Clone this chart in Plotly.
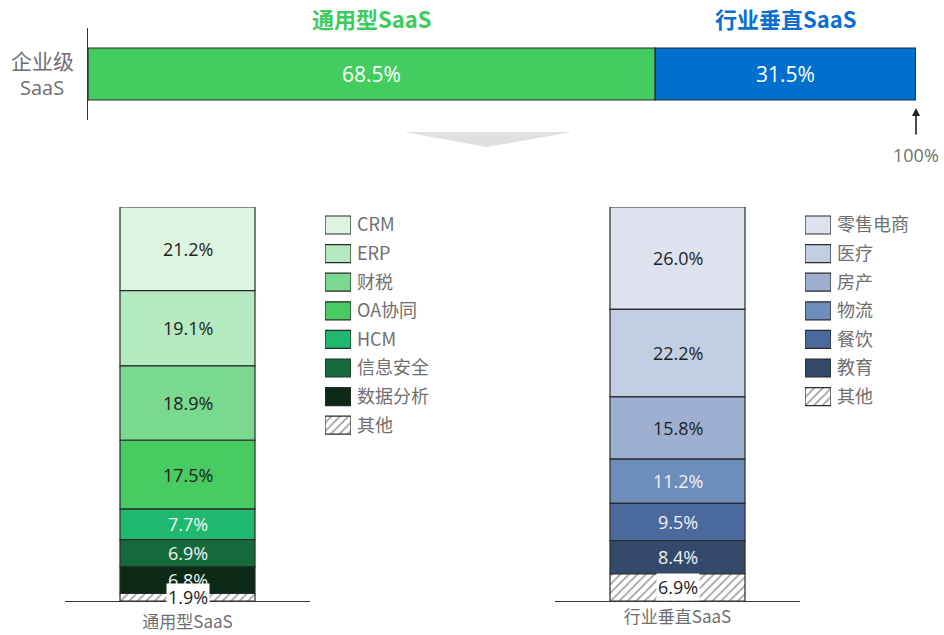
import plotly.graph_objects as go

# ---------------- data ----------------
top_categories = ['通用型SaaS', '行业垂直SaaS']
top_values = [68.5, 31.5]
top_row_label = ['企业级', 'SaaS']
top_total_label = '100%'

general_name = '通用型SaaS'
general_categories = ['CRM', 'ERP', '财税', 'OA协同', 'HCM', '信息安全', '数据分析', '其他']
general_values = [21.2, 19.1, 18.9, 17.5, 7.7, 6.9, 6.8, 1.9]

vertical_name = '行业垂直SaaS'
vertical_categories = ['零售电商', '医疗', '房产', '物流', '餐饮', '教育', '其他']
vertical_values = [26.0, 22.2, 15.8, 11.2, 9.5, 8.4, 6.9]

# ---------------- styles ----------------
W, H = 944, 635
FONT = 'Open Sans, Noto Sans CJK SC, sans-serif'
CJK = 'Noto Sans CJK SC, sans-serif'
GRAY = '#6f6f6f'
OUTLINE = '#2a2a2a'
top_colors = ['#43cd5f', '#0070cf']
top_title_colors = ['#3dcc5b', '#0b6fd0']
general_colors = ['#dcf4e0', '#b3eac0', '#7ad98e', '#48cc62', '#1fb86e', '#156a3c', '#0b2a17', 'white']
general_text = ['#1e1e1e'] * 4 + ['#f2f2f2'] * 3 + ['#1e1e1e']
vertical_colors = ['#dde2ee', '#c2cee1', '#9db0d1', '#6d8dbb', '#4a699c', '#334a6c', 'white']
vertical_text = ['#1e1e1e'] * 3 + ['#f2f2f2'] * 3 + ['#1e1e1e']
HATCH = '#6b6b6b'


def px(x):
    return x / W


def py(y):
    return 1 - y / H


def bases(vals):
    return [sum(vals[i + 1:]) for i in range(len(vals))]


def shapes_for(cats):
    return ['/' if c == '其他' else '' for c in cats]


fig = go.Figure()

# top bar
top_base = [sum(top_values[:i]) for i in range(len(top_values))]
fig.add_trace(go.Bar(
    x=top_values, y=[0] * len(top_values), base=top_base, orientation='h',
    width=0.565, marker=dict(color=top_colors, line=dict(color=OUTLINE, width=1.2)),
    xaxis='x', yaxis='y', showlegend=False, hoverinfo='skip'))


def add_stack(cats, vals, colors, name, xa, ya):
    fig.add_trace(go.Bar(
        x=[name] * len(vals), y=vals, base=bases(vals), width=0.551,
        marker=dict(color=colors, line=dict(color=OUTLINE, width=1.2),
                    pattern=dict(shape=shapes_for(cats), fgcolor=HATCH, bgcolor='white',
                                 size=6, solidity=0.3, fillmode='overlay')),
        xaxis=xa, yaxis=ya, showlegend=False, hoverinfo='skip'))


add_stack(general_categories, general_values, general_colors, general_name, 'x2', 'y2')
add_stack(vertical_categories, vertical_values, vertical_colors, vertical_name, 'x3', 'y3')


def add_legend(cats, colors, xa, ya):
    fig.add_trace(go.Bar(
        x=[1] * len(cats), y=list(range(len(cats))), orientation='h', width=0.63,
        marker=dict(color=colors, line=dict(color=OUTLINE, width=1.2),
                    pattern=dict(shape=shapes_for(cats), fgcolor=HATCH, bgcolor='white',
                                 size=6, solidity=0.3, fillmode='overlay')),
        xaxis=xa, yaxis=ya, showlegend=False, hoverinfo='skip'))


add_legend(general_categories, general_colors, 'x4', 'y4')
add_legend(vertical_categories, vertical_colors, 'x5', 'y5')

annotations = []
for i, (c, v) in enumerate(zip(top_categories, top_values)):
    mid = top_base[i] + v / 2
    annotations.append(dict(x=mid, y=0, xref='x', yref='y', text=f'{v:.1f}%', showarrow=False,
                            font=dict(family=FONT, size=21, color='white')))
    annotations.append(dict(x=mid, y=py(18), xref='x', yref='paper', text=f'<b>{c}</b>', showarrow=False,
                            xanchor='center', yanchor='middle',
                            font=dict(family=CJK, size=22, color=top_title_colors[i])))
annotations.append(dict(x=px(42), y=py(60), xref='paper', yref='paper', text=top_row_label[0],
                        xanchor='center', yanchor='middle',
                        showarrow=False, font=dict(family=CJK, size=21, color=GRAY)))
annotations.append(dict(x=px(42), y=py(87), xref='paper', yref='paper', text=top_row_label[1],
                        xanchor='center', yanchor='middle',
                        showarrow=False, font=dict(family=FONT, size=20, color=GRAY)))
annotations.append(dict(x=sum(top_values), y=py(108), xref='x', yref='paper', ax=0, ay=28, text='',
                        showarrow=True, arrowhead=2, arrowsize=1, arrowwidth=1.6, arrowcolor='#222'))
annotations.append(dict(x=sum(top_values), y=py(155), xref='x', yref='paper', text=top_total_label,
                        xanchor='center', yanchor='middle',
                        showarrow=False, font=dict(family=FONT, size=18, color=GRAY)))


def seg_labels(cats, vals, name, colors, xa, ya):
    b = bases(vals)
    for i, (c, v) in enumerate(zip(cats, vals)):
        other = c == '其他'
        annotations.append(dict(
            x=name, y=b[i] + v / 2, xref=xa, yref=ya, text=f'{v:.1f}%', showarrow=False,
            font=dict(family=FONT, size=18, color=colors[i]),
            bgcolor='white' if other else None, borderpad=1 if other else 0))


seg_labels(general_categories, general_values, general_name, general_text, 'x2', 'y2')
seg_labels(vertical_categories, vertical_values, vertical_name, vertical_text, 'x3', 'y3')

shapes = [dict(type='path', xref='paper', yref='paper',
               path=f'M {px(404)} {py(132)} L {px(572)} {py(132)} L {px(487)} {py(147)} Z',
               fillcolor='#e0e0e0', line=dict(width=0))]

ROW = 28.6
nL, nR = len(general_categories), len(vertical_categories)
leg_top = 225 - ROW / 2

fig.update_layout(
    width=W, height=H, margin=dict(l=0, r=0, t=0, b=0),
    paper_bgcolor='white', plot_bgcolor='rgba(0,0,0,0)',
    barmode='overlay', bargap=0,
    font=dict(family=FONT),
    annotations=annotations, shapes=shapes,
    xaxis=dict(domain=[px(88), px(916)], range=[0, 100], visible=False, anchor='y', fixedrange=True),
    yaxis=dict(domain=[py(120), py(28)], range=[-0.5, 0.5], anchor='x', showline=True,
               linecolor='#333', linewidth=1, showticklabels=False, ticks='', showgrid=False,
               zeroline=False),
    xaxis2=dict(domain=[px(65), px(310)], range=[-0.5, 0.5], anchor='y2', type='category',
                showline=True, linecolor='#333', linewidth=1.2, ticks='', showgrid=False,
                tickfont=dict(family=CJK, size=17, color=GRAY), ticklabelstandoff=5),
    yaxis2=dict(domain=[py(601), py(207)], range=[0, sum(general_values)], anchor='x2', visible=False),
    xaxis3=dict(domain=[px(555), px(800)], range=[-0.5, 0.5], anchor='y3', type='category',
                showline=True, linecolor='#333', linewidth=1.2, ticks='', showgrid=False,
                tickfont=dict(family=CJK, size=17, color=GRAY), ticklabelstandoff=0),
    yaxis3=dict(domain=[py(601), py(207)], range=[0, sum(vertical_values)], anchor='x3', visible=False),
    xaxis4=dict(domain=[px(325), px(351)], range=[0, 1], anchor='y4', visible=False),
    yaxis4=dict(domain=[py(leg_top + nL * ROW), py(leg_top)], range=[nL - 0.5, -0.5], anchor='x4',
                side='right', tickvals=list(range(nL)), ticktext=general_categories,
                showline=False, showgrid=False, zeroline=False, ticks='',
                tickfont=dict(family=CJK, size=18, color=GRAY), ticklabelstandoff=5),
    xaxis5=dict(domain=[px(805), px(831)], range=[0, 1], anchor='y5', visible=False),
    yaxis5=dict(domain=[py(leg_top + nR * ROW), py(leg_top)], range=[nR - 0.5, -0.5], anchor='x5',
                side='right', tickvals=list(range(nR)), ticktext=vertical_categories,
                showline=False, showgrid=False, zeroline=False, ticks='',
                tickfont=dict(family=CJK, size=18, color=GRAY), ticklabelstandoff=5),
)

fig.write_html('out.html', config={'displayModeBar': False, 'staticPlot': True},
               post_script="document.body.style.margin='0';document.body.style.overflow='hidden';")
